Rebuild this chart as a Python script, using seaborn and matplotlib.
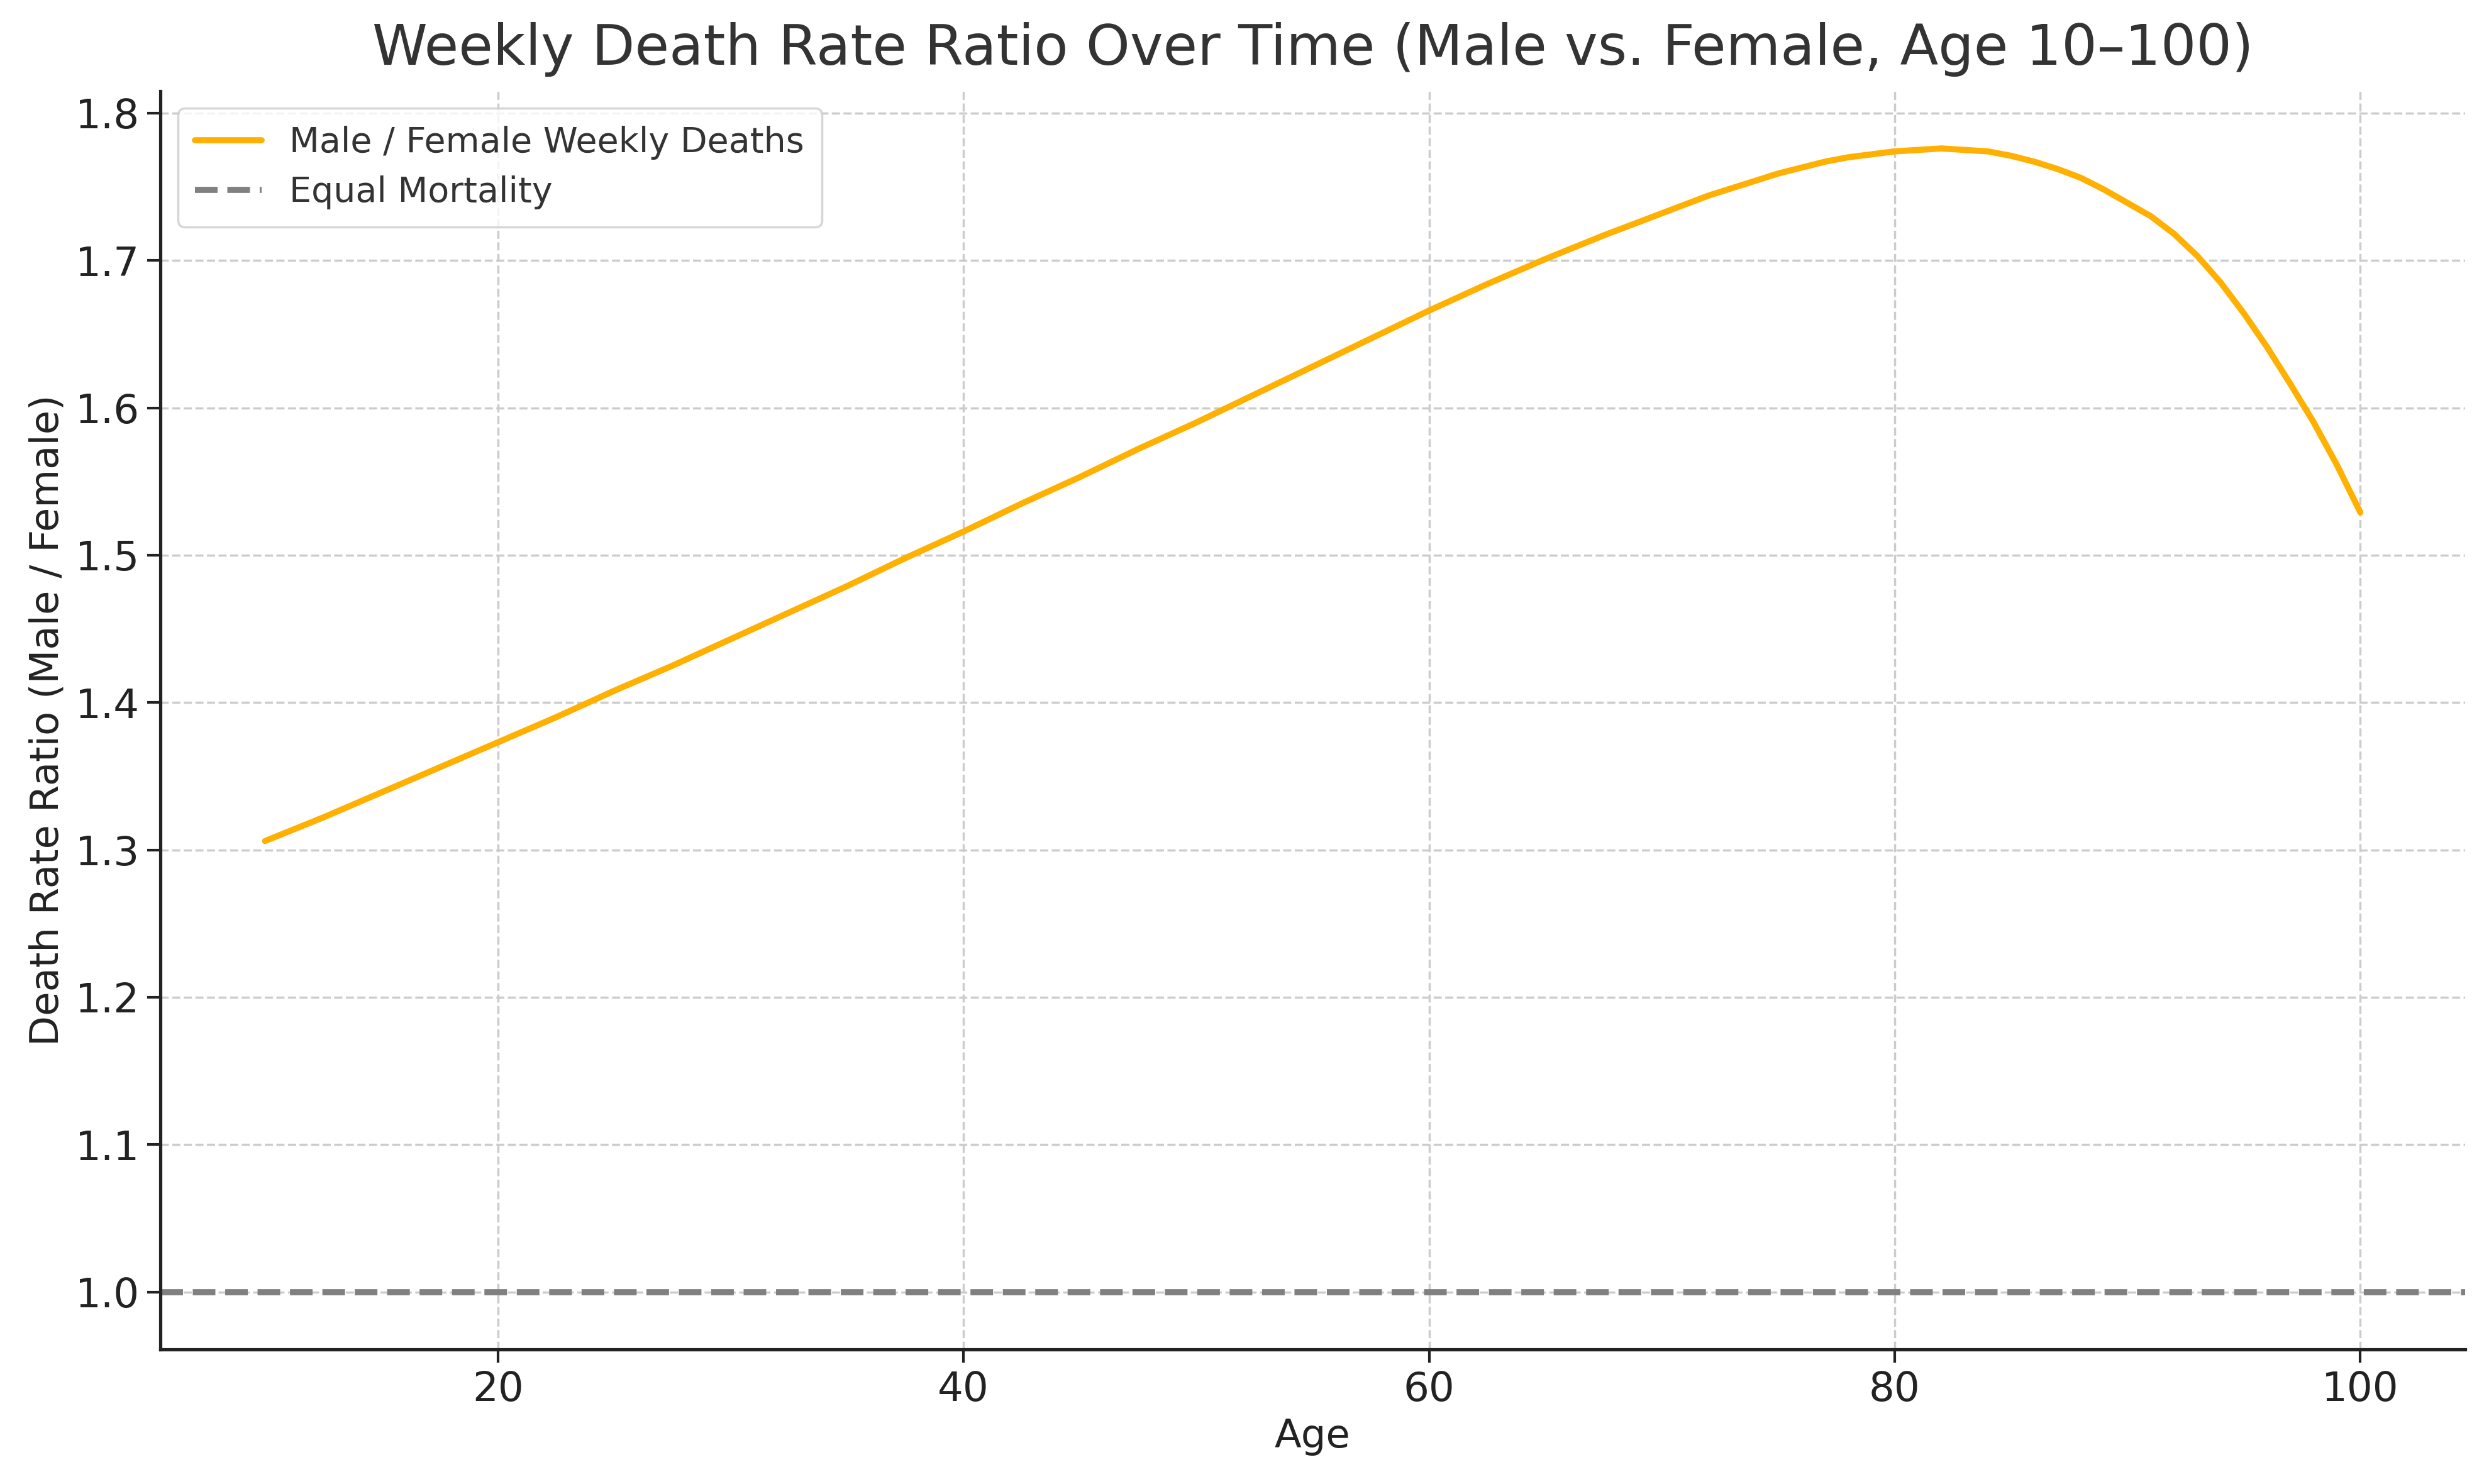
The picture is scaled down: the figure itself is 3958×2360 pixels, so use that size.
import numpy as np
import pandas as pd
import matplotlib
matplotlib.use("Agg")
import matplotlib.pyplot as plt
import seaborn as sns

# ages and male/female weekly death ratio
ages = [10, 12.5, 15, 17.5, 20, 22.5, 25, 27.5, 30, 32.5, 35, 37.5, 40,
        42.5, 45, 47.5, 50, 52.5, 55, 57.5, 60, 62.5, 65, 67.5,
        70, 71, 72, 73, 74, 75, 76, 77, 78, 79, 80, 81, 82, 83, 84, 85,
        86, 87, 88, 89, 90, 91, 92, 93, 94, 95, 96, 97, 98, 99, 100]
ratio = [1.306, 1.322, 1.339, 1.356, 1.373, 1.390, 1.408, 1.425, 1.443,
         1.461, 1.479, 1.498, 1.516, 1.535, 1.553, 1.572, 1.590, 1.609,
         1.628, 1.647, 1.666, 1.684, 1.701, 1.717,
         1.732, 1.738, 1.744, 1.749, 1.754, 1.759, 1.763, 1.767, 1.770,
         1.772, 1.774, 1.775, 1.776, 1.775, 1.774, 1.771, 1.767, 1.762,
         1.756, 1.748, 1.739, 1.730, 1.718, 1.703, 1.685, 1.664, 1.641,
         1.616, 1.590, 1.561, 1.529]
equal_level = 1.0

df = pd.DataFrame({"Age": ages, "Ratio": ratio})

sns.set_style("ticks")
plt.rcParams['font.family'] = ['DejaVu Sans']

fig = plt.figure(figsize=(15.832, 9.44), dpi=250)
ax = fig.add_axes([0.0644, 0.0907, 0.926, 0.848])

sns.lineplot(data=df, x="Age", y="Ratio", ax=ax, color="#ffb000", linewidth=2.8,
             label="Male / Female Weekly Deaths")
ax.axhline(equal_level, color="gray", linestyle="--", linewidth=2.8, label="Equal Mortality")

ax.set_xlim(5.5, 104.5)
ax.set_ylim(0.961, 1.815)
ax.set_yticks([1.0, 1.1, 1.2, 1.3, 1.4, 1.5, 1.6, 1.7, 1.8])
ax.set_xticks([20, 40, 60, 80, 100])
ax.grid(True, linestyle="--", color="#cccccc", linewidth=1.0)
ax.set_axisbelow(True)

sns.despine(ax=ax)
for s in ["left", "bottom"]:
    ax.spines[s].set_color("#222222")
    ax.spines[s].set_linewidth(1.5)
ax.tick_params(labelsize=18.5, colors="#222222", length=6, width=1.2)

ax.set_title("Weekly Death Rate Ratio Over Time (Male vs. Female, Age 10\u2013100)",
             fontsize=25.6, color="#333333", pad=12)
ax.set_xlabel("Age", fontsize=18, color="#222222")
ax.set_ylabel("Death Rate Ratio (Male / Female)", fontsize=18, color="#222222")

leg = ax.legend(loc="upper left", fontsize=16, frameon=True, borderpad=0.5,
                labelspacing=0.45, handletextpad=0.8, handlelength=1.9)
leg.get_frame().set_edgecolor("#cccccc")
for t in leg.get_texts():
    t.set_color("#333333")

fig.savefig("out.png", dpi=250)
